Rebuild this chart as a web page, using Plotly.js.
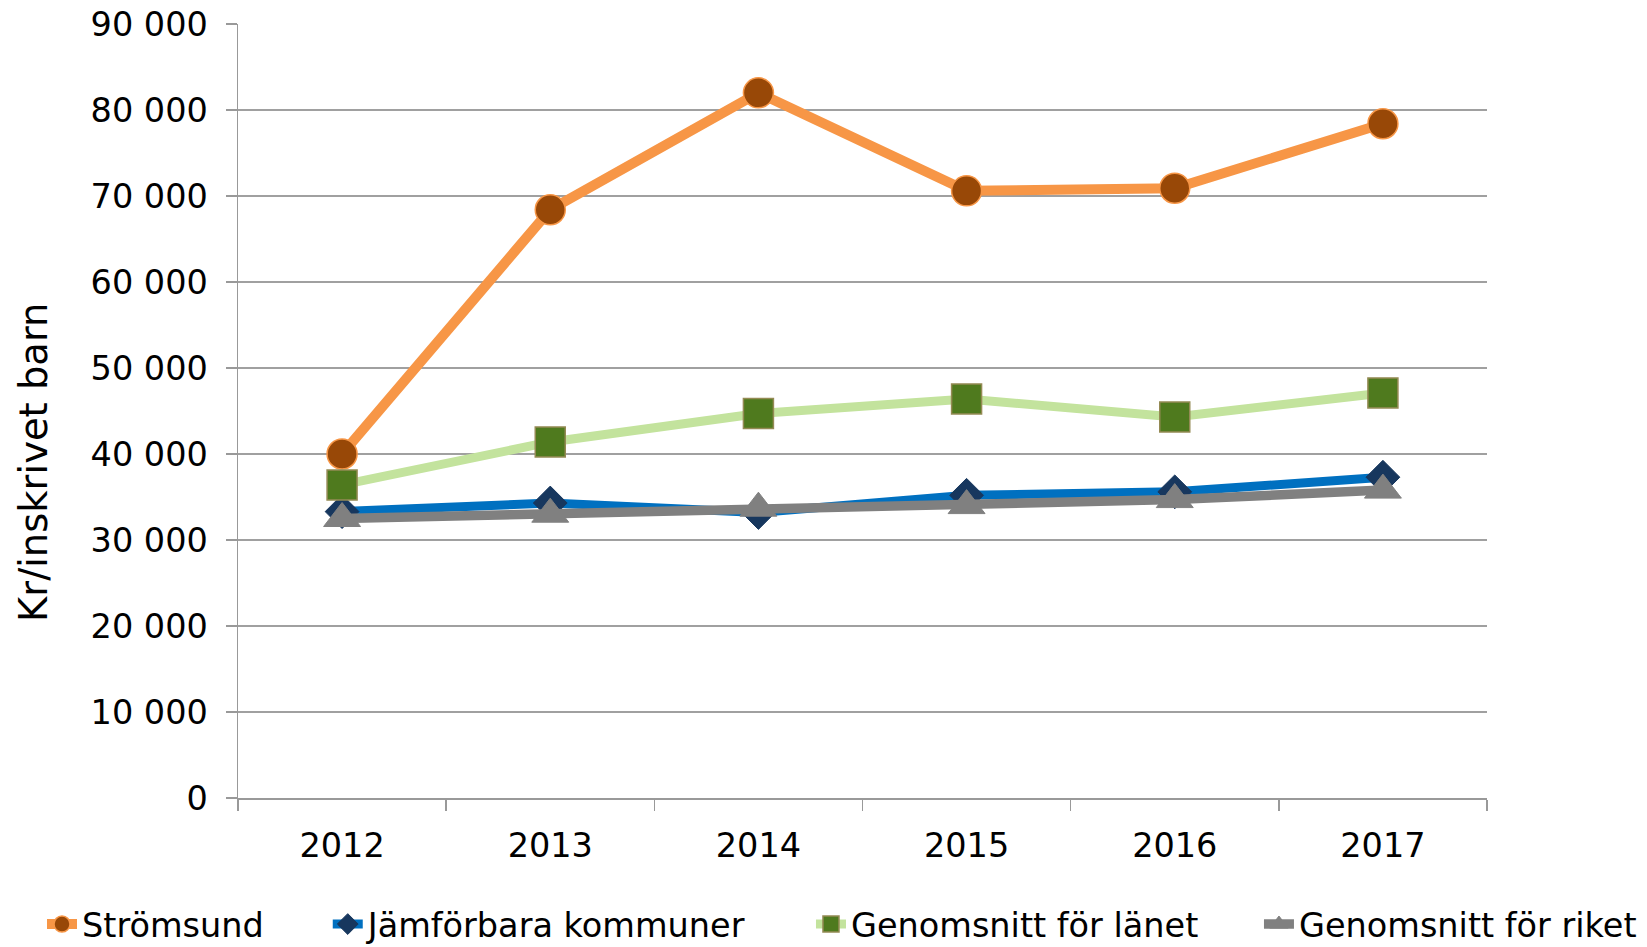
<!DOCTYPE html>
<html>
<head>
<meta charset="utf-8">
<script src="https://cdn.plot.ly/plotly-3.0.1.min.js"></script>
<style>html,body{margin:0;padding:0;background:#fff;}#chart{width:1647px;height:947px;}</style>
</head>
<body>
<div id="chart"></div>
<script>
const years = ["2012", "2013", "2014", "2015", "2016", "2017"];
const stromsund = [40000, 68400, 82000, 70600, 70900, 78400];
const jamforbara = [33300, 34300, 33200, 35200, 35600, 37300];
const lanet = [36400, 41400, 44700, 46400, 44300, 47100];
const riket = [32500, 33000, 33700, 34000, 34700, 35800];
const seriesNames = ["Strömsund", "Jämförbara kommuner", "Genomsnitt för länet", "Genomsnitt för riket"];
const yTicks = [0, 10000, 20000, 30000, 40000, 50000, 60000, 70000, 80000, 90000];
const yTitle = "Kr/inskrivet barn";

const traces = [
  {x: years, y: stromsund, name: seriesNames[0], type: "scatter", mode: "lines+markers", legend: "legend",
   line: {color: "#F79646", width: 10},
   marker: {symbol: "circle", size: 30, color: "#984807", line: {color: "#F79646", width: 1.5}}},
  {x: years, y: jamforbara, name: seriesNames[1], type: "scatter", mode: "lines+markers", legend: "legend2",
   line: {color: "#0070C0", width: 9},
   marker: {symbol: "diamond", size: 26, color: "#17375E", line: {color: "#17375E", width: 1}}},
  {x: years, y: lanet, name: seriesNames[2], type: "scatter", mode: "lines+markers", legend: "legend3",
   line: {color: "#C3E39D", width: 9},
   marker: {symbol: "square", size: 30, color: "#4F7A1E", line: {color: "#948A54", width: 1.5}}},
  {x: years, y: riket, name: seriesNames[3], type: "scatter", mode: "lines+markers", legend: "legend4",
   line: {color: "#808080", width: 9.5},
   marker: {symbol: "triangle-up", size: 32, color: "#808080", line: {color: "#808080", width: 1}}}
];

const fam = "DejaVu Sans, Verdana, sans-serif";
const font = {family: fam, size: 33.5, color: "#000"};
function leg(x) {
  return {x: x, xref: "container", xanchor: "left", y: 0.024, yref: "container", yanchor: "middle",
          orientation: "h", font: font, bgcolor: "rgba(0,0,0,0)", borderwidth: 0};
}

const layout = {
  width: 1647, height: 947,
  paper_bgcolor: "#fff", plot_bgcolor: "#fff",
  separators: ", ",
  font: font,
  margin: {l: 238, r: 160, t: 24, b: 149, pad: 0},
  xaxis: {
    type: "category", range: [-0.5, 5.5],
    showgrid: false, zeroline: false,
    showline: true, linecolor: "#999", linewidth: 1.5,
    ticks: "outside", tickson: "boundaries", ticklen: 11, tickcolor: "#999", tickwidth: 1.5,
    ticklabelstandoff: 17,
    tickfont: font, fixedrange: true
  },
  yaxis: {
    range: [0, 90000],
    tickvals: yTicks, tickformat: ",d",
    showgrid: true, gridcolor: "#A0A0A0", gridwidth: 1.5,
    zeroline: false,
    showline: true, linecolor: "#999", linewidth: 1.5,
    ticks: "outside", ticklen: 11, tickcolor: "#999", tickwidth: 1.5,
    ticklabelstandoff: 11,
    tickfont: font,
    automargin: false, fixedrange: true
  },
  annotations: [{
    text: yTitle, textangle: -90, showarrow: false,
    xref: "paper", x: -0.1633, xanchor: "center",
    yref: "paper", y: 0.433, yanchor: "middle",
    font: {family: fam, size: 38.5, color: "#000"}
  }],
  legend: leg(0.0255),
  legend2: leg(0.199),
  legend3: leg(0.4924),
  legend4: leg(0.7644),
  showlegend: true
};

Plotly.newPlot("chart", traces, layout, {displayModeBar: false, staticPlot: true});
</script>
</body>
</html>
